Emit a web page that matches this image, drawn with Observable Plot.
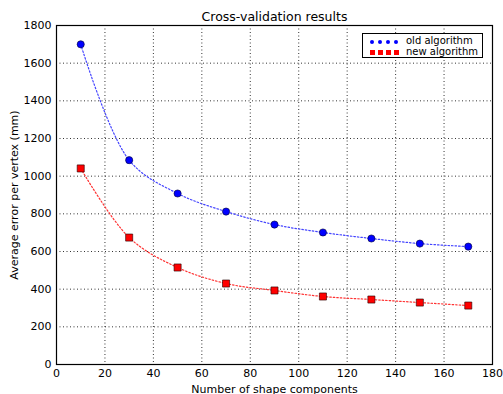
<!DOCTYPE html>
<html><head><meta charset="utf-8">
<script src="https://cdn.jsdelivr.net/npm/d3@7"></script>
<script src="https://cdn.jsdelivr.net/npm/@observablehq/plot@0.6"></script>
<style>
body{margin:0;background:#fff;font-family:"DejaVu Sans",sans-serif;}
#wrap{position:relative;width:503px;height:394px;}
#legend{position:absolute;left:362px;top:33px;width:121px;height:25px;border:1px solid #000;background:#fff;font-size:10px;line-height:11px;box-sizing:border-box;padding:1px 0 0 7px;}
#legend div{display:flex;align-items:center;height:11px;}
#legend span.m{display:inline-block;width:36px;letter-spacing:0;}
</style></head>
<body><div id="wrap"><div id="chart"></div>
<div id="legend"></div></div>
<script>
const components = [10, 30, 50, 70, 90, 110, 130, 150, 170];
const oldAlgorithm = [1700, 1085, 908, 812, 743, 701, 669, 642, 626];
const newAlgorithm = [1041, 674, 515, 430, 393, 361, 345, 329, 313];
const xTicks = [0, 20, 40, 60, 80, 100, 120, 140, 160, 180];
const yTicks = [0, 200, 400, 600, 800, 1000, 1200, 1400, 1600, 1800];
const seriesNames = ["old algorithm", "new algorithm"];
const title = "Cross-validation results";

const oldData = components.map((x, i) => ({x, y: oldAlgorithm[i]}));
const newData = components.map((x, i) => ({x, y: newAlgorithm[i]}));

const plot = Plot.plot({
  width: 503, height: 394,
  marginLeft: 56, marginRight: 11, marginTop: 25, marginBottom: 30,
  style: {fontFamily: "DejaVu Sans, sans-serif", fontSize: "11px", color: "#000", background: "#fff"},
  x: {domain: [0, 180], ticks: xTicks, tickFormat: d => String(d), tickSize: 0, tickPadding: 5, label: "Number of shape components", labelArrow: "none", labelAnchor: "center", labelOffset: 28},
  y: {domain: [0, 1800], ticks: yTicks, tickFormat: d => String(d), tickSize: 0, tickPadding: 5, label: "Average error per vertex (mm)", labelArrow: "none", labelAnchor: "center", labelOffset: 46},
  marks: [
    Plot.ruleX(xTicks.slice(1, -1), {stroke: "#000", strokeWidth: 1, strokeDasharray: "1,2.5", strokeOpacity: 0.8}),
    Plot.ruleY(yTicks.slice(1, -1), {stroke: "#000", strokeWidth: 1, strokeDasharray: "1,2.5", strokeOpacity: 0.8}),
    Plot.line(oldData, {x: "x", y: "y", stroke: "#4444ff", strokeWidth: 1.2, strokeDasharray: "1.5,2", curve: "catmull-rom"}),
    Plot.line(newData, {x: "x", y: "y", stroke: "#ff3333", strokeWidth: 1.2, strokeDasharray: "1.5,2", curve: "catmull-rom"}),
    Plot.dot(oldData, {x: "x", y: "y", r: 3.6, fill: "#0000ff", stroke: "#000033", strokeWidth: 0.6}),
    Plot.dot(newData, {x: "x", y: "y", r: 4, symbol: "square", fill: "#ff0000", stroke: "#220000", strokeWidth: 0.6}),
    Plot.frame({stroke: "#000", strokeWidth: 1.2}),
    Plot.text([title], {frameAnchor: "top", dy: -13, fontSize: 12.5})
  ]
});
document.getElementById("chart").appendChild(plot);

const leg = document.getElementById("legend");
const styles = [{c: "#0000ff", r: "50%"}, {c: "#ff0000", r: "0"}];
seriesNames.forEach((name, i) => {
  const row = document.createElement("div");
  const m = document.createElement("span");
  m.className = "m";
  for (let k = 0; k < 4; k++) {
    const d = document.createElement("span");
    d.style.cssText = `display:inline-block;width:${i ? 5 : 4}px;height:${i ? 5 : 4}px;background:${styles[i].c};border-radius:${styles[i].r};margin-right:${i ? 3 : 4}px;`;
    m.appendChild(d);
  }
  row.appendChild(m);
  const t = document.createElement("span");
  t.textContent = name;
  row.appendChild(t);
  leg.appendChild(row);
});
</script></body></html>
